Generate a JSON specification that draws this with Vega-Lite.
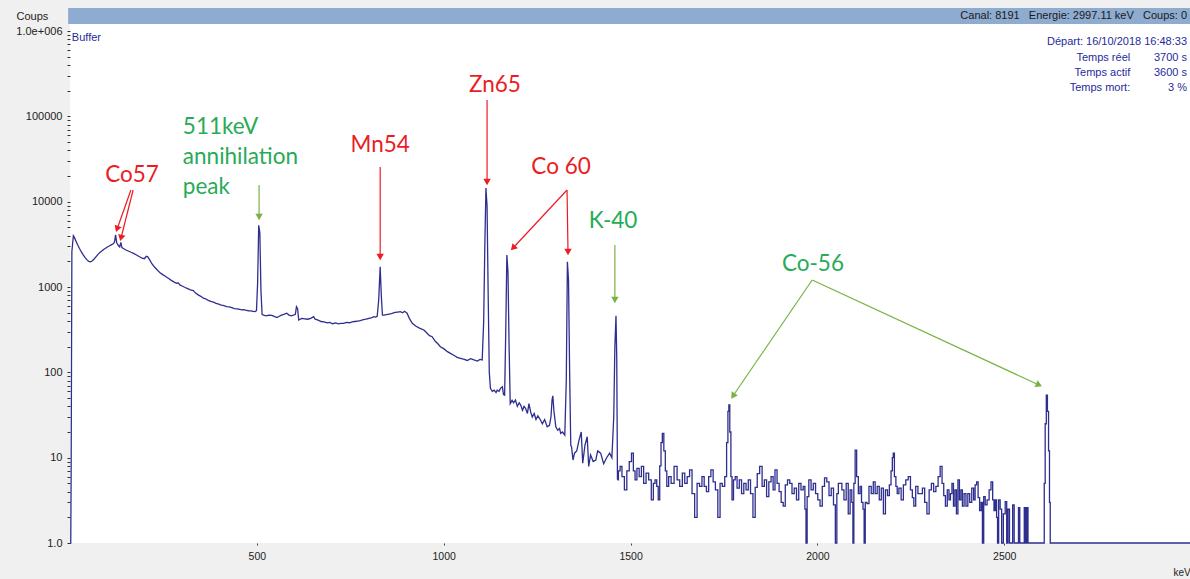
{
  "$schema": "https://vega.github.io/schema/vega-lite/v6.json",
  "width": 1120,
  "height": 535,
  "autosize": {"type": "none"},
  "padding": {"left": 70, "top": 8, "right": 0, "bottom": 36},
  "background": "#f0f0f0",
  "config": {
    "view": {"fill": "#ffffff", "stroke": null},
    "font": "Liberation Sans",
    "axis": {"grid": false, "domain": false, "labelFlush": false, "labelOverlap": false, "titleFontWeight": "normal"}
  },
  "datasets": {
    "spectrum": [
      {"keV":0,"counts":1},{"keV":2,"counts":1},{"keV":3,"counts":6},{"keV":4,"counts":120},{"keV":5,"counts":2600},{"keV":9,"counts":4000},{"keV":12,"counts":3800},{"keV":16,"counts":3450},{"keV":20,"counts":3150},{"keV":25,"counts":2850},{"keV":30,"counts":2600},{"keV":35,"counts":2400},{"keV":40,"counts":2230},{"keV":45,"counts":2100},{"keV":50,"counts":2000},{"keV":55,"counts":1980},{"keV":60,"counts":2040},{"keV":65,"counts":2150},{"keV":70,"counts":2280},{"keV":75,"counts":2420},{"keV":80,"counts":2550},{"keV":85,"counts":2650},{"keV":90,"counts":2760},{"keV":95,"counts":2850},{"keV":100,"counts":2950},{"keV":105,"counts":3030},{"keV":110,"counts":3120},{"keV":115,"counts":3200},{"keV":119,"counts":3350},{"keV":122,"counts":4100},{"keV":125,"counts":3300},{"keV":130,"counts":3050},{"keV":133,"counts":2950},{"keV":136,"counts":3350},{"keV":139,"counts":2900},{"keV":145,"counts":2800},{"keV":150,"counts":2720},{"keV":156,"counts":2650},{"keV":163,"counts":2560},{"keV":170,"counts":2480},{"keV":178,"counts":2380},{"keV":186,"counts":2270},{"keV":193,"counts":2180},{"keV":199,"counts":2150},{"keV":204,"counts":2300},{"keV":208,"counts":2260},{"keV":213,"counts":2100},{"keV":219,"counts":1880},{"keV":226,"counts":1720},{"keV":233,"counts":1600},{"keV":241,"counts":1470},{"keV":248,"counts":1400},{"keV":256,"counts":1330},{"keV":264,"counts":1260},{"keV":271,"counts":1200},{"keV":278,"counts":1150},{"keV":285,"counts":1110},{"keV":290,"counts":1120},{"keV":294,"counts":1060},{"keV":300,"counts":1030},{"keV":308,"counts":990},{"keV":315,"counts":960},{"keV":322,"counts":930},{"keV":330,"counts":910},{"keV":336,"counts":850},{"keV":343,"counts":810},{"keV":350,"counts":780},{"keV":357,"counts":740},{"keV":363,"counts":730},{"keV":370,"counts":700},{"keV":377,"counts":680},{"keV":384,"counts":665},{"keV":391,"counts":645},{"keV":398,"counts":630},{"keV":405,"counts":615},{"keV":412,"counts":605},{"keV":419,"counts":590},{"keV":426,"counts":585},{"keV":433,"counts":575},{"keV":440,"counts":560},{"keV":447,"counts":555},{"keV":454,"counts":548},{"keV":460,"counts":540},{"keV":466,"counts":545},{"keV":472,"counts":532},{"keV":478,"counts":528},{"keV":484,"counts":525},{"keV":490,"counts":520},{"keV":495,"counts":515},{"keV":499,"counts":530},{"keV":502,"counts":1100},{"keV":505,"counts":5300},{"keV":508,"counts":4300},{"keV":511,"counts":900},{"keV":514,"counts":480},{"keV":518,"counts":470},{"keV":525,"counts":460},{"keV":532,"counts":470},{"keV":540,"counts":465},{"keV":548,"counts":450},{"keV":554,"counts":440},{"keV":560,"counts":455},{"keV":566,"counts":470},{"keV":572,"counts":480},{"keV":580,"counts":495},{"keV":586,"counts":470},{"keV":592,"counts":460},{"keV":598,"counts":470},{"keV":603,"counts":480},{"keV":606,"counts":590},{"keV":609,"counts":560},{"keV":612,"counts":411},{"keV":620,"counts":430},{"keV":628,"counts":425},{"keV":636,"counts":420},{"keV":644,"counts":430},{"keV":652,"counts":450},{"keV":656,"counts":420},{"keV":664,"counts":410},{"keV":672,"counts":395},{"keV":680,"counts":390},{"keV":688,"counts":380},{"keV":695,"counts":385},{"keV":703,"counts":372},{"keV":711,"counts":380},{"keV":718,"counts":370},{"keV":724,"counts":376},{"keV":732,"counts":376},{"keV":740,"counts":385},{"keV":748,"counts":382},{"keV":755,"counts":390},{"keV":762,"counts":395},{"keV":770,"counts":400},{"keV":777,"counts":405},{"keV":785,"counts":415},{"keV":792,"counts":420},{"keV":800,"counts":430},{"keV":808,"counts":440},{"keV":813,"counts":450},{"keV":818,"counts":445},{"keV":822,"counts":455},{"keV":826,"counts":700},{"keV":830,"counts":1735},{"keV":833,"counts":800},{"keV":836,"counts":470},{"keV":840,"counts":470},{"keV":850,"counts":480},{"keV":860,"counts":490},{"keV":870,"counts":505},{"keV":877,"counts":510},{"keV":884,"counts":515},{"keV":890,"counts":500},{"keV":895,"counts":520},{"keV":902,"counts":495},{"keV":908,"counts":430},{"keV":916,"counts":376},{"keV":925,"counts":350},{"keV":935,"counts":330},{"keV":947,"counts":314},{"keV":955,"counts":290},{"keV":962,"counts":270},{"keV":969,"counts":262},{"keV":978,"counts":230},{"keV":985,"counts":215},{"keV":991,"counts":200},{"keV":1000,"counts":190},{"keV":1010,"counts":175},{"keV":1018,"counts":167},{"keV":1028,"counts":158},{"keV":1036,"counts":150},{"keV":1045,"counts":146},{"keV":1055,"counts":142},{"keV":1063,"counts":138},{"keV":1072,"counts":145},{"keV":1081,"counts":140},{"keV":1090,"counts":136},{"keV":1097,"counts":142},{"keV":1103,"counts":140},{"keV":1107,"counts":400},{"keV":1110,"counts":3000},{"keV":1113,"counts":14500},{"keV":1116,"counts":9000},{"keV":1119,"counts":800},{"keV":1122,"counts":100},{"keV":1125,"counts":65},{"keV":1130,"counts":60},{"keV":1135,"counts":62},{"keV":1140,"counts":58},{"keV":1143,"counts":62},{"keV":1148,"counts":60},{"keV":1152,"counts":65},{"keV":1157,"counts":68},{"keV":1160,"counts":55},{"keV":1163,"counts":54},{"keV":1166,"counts":300},{"keV":1169,"counts":2380},{"keV":1172,"counts":1500},{"keV":1175,"counts":200},{"keV":1178,"counts":43},{"keV":1183,"counts":47},{"keV":1187,"counts":44},{"keV":1192,"counts":47.5},{"keV":1197,"counts":40},{"keV":1202,"counts":44},{"keV":1206,"counts":41.5},{"keV":1211,"counts":36},{"keV":1215,"counts":40},{"keV":1219,"counts":38},{"keV":1224,"counts":33},{"keV":1228,"counts":43},{"keV":1233,"counts":34},{"keV":1237,"counts":30},{"keV":1242,"counts":33},{"keV":1247,"counts":28},{"keV":1252,"counts":31},{"keV":1259,"counts":27.7},{"keV":1264,"counts":25},{"keV":1270,"counts":28},{"keV":1277,"counts":23},{"keV":1283,"counts":24},{"keV":1287,"counts":30},{"keV":1290,"counts":48},{"keV":1292,"counts":53},{"keV":1295,"counts":35},{"keV":1300,"counts":23},{"keV":1305,"counts":21},{"keV":1310,"counts":22},{"keV":1313,"counts":19.3},{"keV":1318,"counts":20},{"keV":1324,"counts":18.4},{"keV":1328,"counts":80},{"keV":1331,"counts":1985},{"keV":1334,"counts":1200},{"keV":1337,"counts":100},{"keV":1340,"counts":14},
      {"keV":1342,"counts":13.5},{"keV":1346,"counts":9.4},{"keV":1350,"counts":11.3},{"keV":1356,"counts":12},{"keV":1362,"counts":16},{"keV":1368,"counts":20},{"keV":1372,"counts":8.6},{"keV":1378,"counts":14},{"keV":1384,"counts":17.6},{"keV":1388,"counts":7.9},{"keV":1393,"counts":10.8},{"keV":1400,"counts":9},{"keV":1407,"counts":9.4},{"keV":1412,"counts":12},{"keV":1420,"counts":11.3},{"keV":1428,"counts":8.5},{"keV":1436,"counts":10},{"keV":1444,"counts":11.3},{"keV":1450,"counts":10},{"keV":1455,"counts":30},{"keV":1458,"counts":200},{"keV":1461,"counts":460},{"keV":1463,"counts":150},{"keV":1465,"counts":5.5},{"keV":1470,"counts":7},{"keV":1474,"counts":7.9},{"keV":1480,"counts":6},{"keV":1487,"counts":4.2},{"keV":1493,"counts":7},{"keV":1500,"counts":9},{"keV":1505,"counts":11.3},{"keV":1510,"counts":7},{"keV":1514,"counts":5.5},{"keV":1520,"counts":7.5},{"keV":1526,"counts":6},{"keV":1532,"counts":7.9},{"keV":1538,"counts":5},{"keV":1545,"counts":6.6},{"keV":1552,"counts":5.5},{"keV":1559,"counts":3.2},{"keV":1563,"counts":5},{"keV":1568,"counts":5.5},{"keV":1572,"counts":4.6},{"keV":1576,"counts":3.2},{"keV":1580,"counts":8},{"keV":1583,"counts":15},{"keV":1587,"counts":19.3},{"keV":1591,"counts":12},{"keV":1595,"counts":7},{"keV":1599,"counts":4.6},{"keV":1605,"counts":6},{"keV":1612,"counts":5},{"keV":1621,"counts":7.9},{"keV":1628,"counts":5.5},{"keV":1635,"counts":4.6},{"keV":1642,"counts":6.6},{"keV":1648,"counts":5},{"keV":1655,"counts":6},{"keV":1661,"counts":7.2},{"keV":1668,"counts":3.8},{"keV":1675,"counts":2.0},{"keV":1681,"counts":5},{"keV":1688,"counts":4.6},{"keV":1694,"counts":6},{"keV":1700,"counts":4.6},{"keV":1706,"counts":4.0},{"keV":1712,"counts":6},{"keV":1718,"counts":7.2},{"keV":1724,"counts":5.2},{"keV":1730,"counts":4.2},{"keV":1737,"counts":2.0},{"keV":1742,"counts":5},{"keV":1749,"counts":4.6},{"keV":1755,"counts":6},{"keV":1759,"counts":15},{"keV":1762,"counts":35},{"keV":1764,"counts":41.5},{"keV":1767,"counts":20},{"keV":1770,"counts":6},{"keV":1773,"counts":3.2},{"keV":1778,"counts":5.5},{"keV":1782,"counts":6.0},{"keV":1788,"counts":4.4},{"keV":1794,"counts":5.5},{"keV":1800,"counts":3.8},{"keV":1806,"counts":5},{"keV":1812,"counts":4.2},{"keV":1818,"counts":5.5},{"keV":1824,"counts":3.8},{"keV":1831,"counts":2.0},{"keV":1836,"counts":4.5},{"keV":1842,"counts":6.5},{"keV":1849,"counts":7.9},{"keV":1855,"counts":4.6},{"keV":1861,"counts":5.5},{"keV":1867,"counts":3.5},{"keV":1873,"counts":5.2},{"keV":1879,"counts":6},{"keV":1884,"counts":4.2},{"keV":1889,"counts":7.2},{"keV":1895,"counts":5},{"keV":1900,"counts":4},{"keV":1906,"counts":3},{"keV":1911,"counts":2.7},{"keV":1917,"counts":4.8},{"keV":1923,"counts":5.5},{"keV":1929,"counts":5.0},{"keV":1935,"counts":3.8},{"keV":1941,"counts":4.4},{"keV":1947,"counts":3.2},{"keV":1953,"counts":5},{"keV":1959,"counts":4.2},{"keV":1965,"counts":4.6},{"keV":1968,"counts":2.5},{"keV":1971,"counts":1},{"keV":1974,"counts":3.5},{"keV":1980,"counts":5.5},{"keV":1986,"counts":4.2},{"keV":1992,"counts":5.0},{"keV":1998,"counts":3.8},{"keV":2004,"counts":3.2},{"keV":2010,"counts":2.7},{"keV":2016,"counts":4.6},{"keV":2022,"counts":5.8},{"keV":2028,"counts":5.2},{"keV":2034,"counts":3.6},{"keV":2040,"counts":4.4},{"keV":2046,"counts":2.8},{"keV":2050,"counts":1},{"keV":2054,"counts":3.8},{"keV":2058,"counts":5},{"keV":2063,"counts":5.0},{"keV":2068,"counts":4.2},{"keV":2074,"counts":3.2},{"keV":2080,"counts":5},{"keV":2085,"counts":2.2},{"keV":2090,"counts":4.2},{"keV":2094,"counts":3},{"keV":2096,"counts":1},{"keV":2099,"counts":5},{"keV":2103,"counts":12.3},{"keV":2107,"counts":6},{"keV":2112,"counts":3.8},{"keV":2116,"counts":4.6},{"keV":2120,"counts":3},{"keV":2124,"counts":2.5},{"keV":2126,"counts":1},{"keV":2130,"counts":3},{"keV":2135,"counts":2.9},{"keV":2141,"counts":4.6},{"keV":2147,"counts":3.8},{"keV":2152,"counts":5.2},{"keV":2157,"counts":3.8},{"keV":2163,"counts":4.6},{"keV":2168,"counts":3.2},{"keV":2174,"counts":4.4},{"keV":2179,"counts":2.2},{"keV":2185,"counts":4.2},{"keV":2190,"counts":3.6},{"keV":2195,"counts":4.8},{"keV":2199,"counts":7},{"keV":2202,"counts":10},{"keV":2204,"counts":11.3},{"keV":2208,"counts":6},{"keV":2212,"counts":4.6},{"keV":2215,"counts":3.8},{"keV":2221,"counts":4.4},{"keV":2227,"counts":3.2},{"keV":2233,"counts":4.8},{"keV":2240,"counts":5.5},{"keV":2246,"counts":6.0},{"keV":2252,"counts":4.2},{"keV":2256,"counts":3.4},{"keV":2260,"counts":2.7},{"keV":2266,"counts":4.6},{"keV":2272,"counts":3.8},{"keV":2278,"counts":3.8},{"keV":2284,"counts":4.4},{"keV":2290,"counts":3},{"keV":2296,"counts":2.2},{"keV":2302,"counts":4.2},{"keV":2308,"counts":5},{"keV":2314,"counts":4},{"keV":2320,"counts":4.6},{"keV":2326,"counts":6},{"keV":2331,"counts":7.9},{"keV":2336,"counts":5},{"keV":2340,"counts":3.6},{"keV":2345,"counts":2.7},{"keV":2350,"counts":4.2},{"keV":2354,"counts":3.2},{"keV":2358,"counts":3.8},{"keV":2362,"counts":5.0},{"keV":2366,"counts":2.7},{"keV":2370,"counts":4.2},{"keV":2374,"counts":2.2},{"keV":2378,"counts":5.5},{"keV":2382,"counts":3.2},{"keV":2386,"counts":4.2},{"keV":2390,"counts":2.7},{"keV":2395,"counts":3.8},{"keV":2400,"counts":2.7},{"keV":2405,"counts":3.8},{"keV":2410,"counts":3},{"keV":2416,"counts":4.4},{"keV":2420,"counts":3.2},{"keV":2424,"counts":4.8},{"keV":2428,"counts":5.2},{"keV":2432,"counts":3.4},{"keV":2436,"counts":2.4},{"keV":2440,"counts":3},{"keV":2443,"counts":1},{"keV":2447,"counts":3.5},{"keV":2451,"counts":2.8},{"keV":2457,"counts":3.2},{"keV":2462,"counts":4.2},{"keV":2467,"counts":5.2},{"keV":2471,"counts":3.2},{"keV":2474,"counts":2.4},{"keV":2478,"counts":3.2},{"keV":2481,"counts":2},{"keV":2483,"counts":1},{"keV":2487,"counts":3.2},{"keV":2491,"counts":2.5},{"keV":2495,"counts":1},{"keV":2500,"counts":2.2},{"keV":2505,"counts":3.05},{"keV":2508,"counts":1},{"keV":2512,"counts":2.5},{"keV":2516,"counts":1},{"keV":2520,"counts":1},{"keV":2525,"counts":2.8},{"keV":2528,"counts":1},{"keV":2536,"counts":1},{"keV":2540,"counts":2.6},{"keV":2543,"counts":1},{"keV":2552,"counts":1},{"keV":2555,"counts":2.6},{"keV":2558,"counts":1},{"keV":2562,"counts":2.6},{"keV":2565,"counts":1},{"keV":2606,"counts":1},{"keV":2608,"counts":5},{"keV":2611,"counts":25},{"keV":2614,"counts":54},{"keV":2617,"counts":35},{"keV":2620,"counts":12},{"keV":2622,"counts":3},{"keV":2624,"counts":1},{"keV":2997,"counts":1}
    ],
    "arrows": [
      {"arrow":"Co57a","group":"activation","keV0":163,"c0":13750,"keV1":126,"c1":4800},
      {"arrow":"Co57b","group":"activation","keV0":169,"c0":13750,"keV1":136.5,"c1":3765},
      {"arrow":"511","group":"other","keV0":506,"c0":15740,"keV1":506,"c1":6635},
      {"arrow":"Mn54","group":"activation","keV0":830,"c0":25600,"keV1":830,"c1":2254},
      {"arrow":"Zn65","group":"activation","keV0":1116,"c0":156000,"keV1":1116,"c1":17060},
      {"arrow":"Co60a","group":"activation","keV0":1330,"c0":13750,"keV1":1185.5,"c1":2873},
      {"arrow":"Co60b","group":"activation","keV0":1330,"c0":13750,"keV1":1332.6,"c1":2579},
      {"arrow":"K40","group":"other","keV0":1458,"c0":3118,"keV1":1458,"c1":706},
      {"arrow":"Co56a","group":"other","keV0":1986,"c0":1211,"keV1":1774,"c1":52.9},
      {"arrow":"Co56b","group":"other","keV0":1986,"c0":1211,"keV1":2593,"c1":71.2}
    ],
    "labels": [
      {"label":"Co57","group":"activation","keV":166,"counts":20600},
      {"label":"Mn54","group":"activation","keV":830,"counts":46400},
      {"label":"Zn65","group":"activation","keV":1137,"counts":234000},
      {"label":"Co 60","group":"activation","keV":1314,"counts":25600},
      {"label":"K-40","group":"other","keV":1453,"counts":5960},
      {"label":"Co-56","group":"other","keV":1988,"counts":1866}
    ],
    "labels511": [
      {"label":"511keV","group":"other","keV":302,"counts":75300},
      {"label":"annihilation","group":"other","keV":302,"counts":33500},
      {"label":"peak","group":"other","keV":302,"counts":14920}
    ],
    "info": [
      {"text":"Départ: 16/10/2018 16:48:33","keV":2989,"counts":747000},
      {"text":"Temps réel","keV":2837,"counts":485000},
      {"text":"3700 s","keV":2989,"counts":485000},
      {"text":"Temps actif","keV":2837,"counts":323600},
      {"text":"3600 s","keV":2989,"counts":323600},
      {"text":"Temps mort:","keV":2837,"counts":216000},
      {"text":"3 %","keV":2989,"counts":216000}
    ]
  },
  "resolve": {"scale": {"color": "independent"}},
  "layer": [
    {
      "data": {"values": [{}]},
      "mark": {"type": "rect", "color": "#8eabd0"},
      "encoding": {
        "x": {"datum": -5, "type": "quantitative"},
        "x2": {"datum": 2997},
        "y": {"datum": 1216000, "type": "quantitative"},
        "y2": {"datum": 1870500}
      }
    },
    {
      "data": {"values": [{}]},
      "mark": {"type": "text", "text": "Canal: 8191\u00a0\u00a0 Energie: 2997.11 keV\u00a0\u00a0 Coups: 0", "align": "right", "baseline": "middle", "fontSize": 11, "color": "#1a1a1a", "font": "Liberation Sans"},
      "encoding": {
        "x": {"datum": 2989, "type": "quantitative"},
        "y": {"datum": 1507000, "type": "quantitative"}
      }
    },
    {
      "data": {"name": "spectrum"},
      "transform": [{"filter": "datum.keV <= 1465"}],
      "mark": {"type": "line", "color": "#2e2e8e", "strokeWidth": 1.3, "interpolate": "linear"},
      "encoding": {
        "x": {
          "field": "keV", "type": "quantitative",
          "scale": {"domain": [0, 2997], "nice": false, "zero": false},
          "axis": {
            "values": [500, 1000, 1500, 2000, 2500], "format": "d",
            "tickSize": 2, "tickColor": "#444", "labelFontSize": 10.5, "labelColor": "#222", "labelPadding": 6,
            "title": "keV", "titleFontSize": 10, "titleColor": "#222", "titleX": 1103, "titleY": 29, "titleAlign": "left", "titleBaseline": "middle"
          }
        },
        "y": {
          "field": "counts", "type": "quantitative",
          "scale": {"type": "log", "domain": [1, 1870500], "nice": false, "zero": false},
          "axis": {
            "values": [1,2,3,4,5,6,7,8,9,10,20,30,40,50,60,70,80,90,100,200,300,400,500,600,700,800,900,1000,2000,3000,4000,5000,6000,7000,8000,9000,10000,20000,30000,40000,50000,60000,70000,80000,90000,100000,200000,300000,400000,500000,600000,700000,800000,900000,1000000],
            "labelExpr": "datum.value == 1 ? '1.0' : datum.value == 1000000 ? '1.0e+006' : indexof([10,100,1000,10000,100000], datum.value) >= 0 ? format(datum.value, 'd') : ''",
            "tickSize": 3, "tickColor": "#333", "labelFontSize": 11, "labelColor": "#222", "labelPadding": 5,
            "title": "Coups", "titleFontSize": 11, "titleColor": "#222", "titleAngle": 0, "titleX": -54, "titleY": 8, "titleAlign": "left", "titleBaseline": "middle"
          }
        }
      }
    },
    {
      "data": {"name": "spectrum"},
      "transform": [{"filter": "datum.keV >= 1465"}],
      "mark": {"type": "line", "color": "#2e2e8e", "strokeWidth": 1.3, "interpolate": "step"},
      "encoding": {
        "x": {"field": "keV", "type": "quantitative"},
        "y": {"field": "counts", "type": "quantitative"}
      }
    },
    {
      "data": {"name": "arrows"},
      "mark": {"type": "rule", "strokeWidth": 1.2},
      "encoding": {
        "x": {"field": "keV0", "type": "quantitative"},
        "y": {"field": "c0", "type": "quantitative"},
        "x2": {"field": "keV1"},
        "y2": {"field": "c1"},
        "color": {"field": "group", "type": "nominal", "scale": {"domain": ["activation", "other"], "range": ["#ec1c24", "#79b243"]}, "legend": null}
      }
    },
    {
      "data": {"name": "arrows"},
      "transform": [{"filter": {"field": "arrow", "oneOf": ["511", "Mn54", "Zn65", "Co60b", "K40"]}}],
      "mark": {"type": "point", "shape": "triangle-up", "filled": true, "opacity": 1, "size": 55, "angle": 180},
      "encoding": {
        "x": {"field": "keV1", "type": "quantitative"},
        "y": {"field": "c1", "type": "quantitative"},
        "color": {"field": "group", "type": "nominal", "scale": {"domain": ["activation", "other"], "range": ["#ec1c24", "#79b243"]}, "legend": null}
      }
    },
    {
      "data": {"name": "arrows"},
      "transform": [{"filter": {"field": "arrow", "equal": "Co57a"}}],
      "mark": {"type": "point", "shape": "triangle-up", "filled": true, "opacity": 1, "size": 55, "angle": 200, "color": "#ec1c24"},
      "encoding": {"x": {"field": "keV1", "type": "quantitative"}, "y": {"field": "c1", "type": "quantitative"}}
    },
    {
      "data": {"name": "arrows"},
      "transform": [{"filter": {"field": "arrow", "equal": "Co57b"}}],
      "mark": {"type": "point", "shape": "triangle-up", "filled": true, "opacity": 1, "size": 55, "angle": 194, "color": "#ec1c24"},
      "encoding": {"x": {"field": "keV1", "type": "quantitative"}, "y": {"field": "c1", "type": "quantitative"}}
    },
    {
      "data": {"name": "arrows"},
      "transform": [{"filter": {"field": "arrow", "equal": "Co60a"}}],
      "mark": {"type": "point", "shape": "triangle-up", "filled": true, "opacity": 1, "size": 55, "angle": 223, "color": "#ec1c24"},
      "encoding": {"x": {"field": "keV1", "type": "quantitative"}, "y": {"field": "c1", "type": "quantitative"}}
    },
    {
      "data": {"name": "arrows"},
      "transform": [{"filter": {"field": "arrow", "equal": "Co56a"}}],
      "mark": {"type": "point", "shape": "triangle-up", "filled": true, "opacity": 1, "size": 55, "angle": 214, "color": "#79b243"},
      "encoding": {"x": {"field": "keV1", "type": "quantitative"}, "y": {"field": "c1", "type": "quantitative"}}
    },
    {
      "data": {"name": "arrows"},
      "transform": [{"filter": {"field": "arrow", "equal": "Co56b"}}],
      "mark": {"type": "point", "shape": "triangle-up", "filled": true, "opacity": 1, "size": 55, "angle": 115, "color": "#79b243"},
      "encoding": {"x": {"field": "keV1", "type": "quantitative"}, "y": {"field": "c1", "type": "quantitative"}}
    },
    {
      "data": {"name": "labels"},
      "mark": {"type": "text", "font": "Lato", "fontSize": 22.5, "align": "center", "baseline": "middle"},
      "encoding": {
        "x": {"field": "keV", "type": "quantitative"},
        "y": {"field": "counts", "type": "quantitative"},
        "text": {"field": "label"},
        "color": {"field": "group", "type": "nominal", "scale": {"domain": ["activation", "other"], "range": ["#ec1c24", "#27ab57"]}, "legend": null}
      }
    },
    {
      "data": {"name": "labels511"},
      "mark": {"type": "text", "font": "Lato", "fontSize": 22.5, "align": "left", "baseline": "middle", "color": "#27ab57"},
      "encoding": {
        "x": {"field": "keV", "type": "quantitative"},
        "y": {"field": "counts", "type": "quantitative"},
        "text": {"field": "label"}
      }
    },
    {
      "data": {"name": "info"},
      "mark": {"type": "text", "font": "Liberation Sans", "fontSize": 11, "align": "right", "baseline": "middle", "color": "#1f2a9c"},
      "encoding": {
        "x": {"field": "keV", "type": "quantitative"},
        "y": {"field": "counts", "type": "quantitative"},
        "text": {"field": "text"}
      }
    },
    {
      "data": {"values": [{}]},
      "mark": {"type": "text", "text": "Buffer", "font": "Liberation Sans", "fontSize": 11, "align": "left", "baseline": "middle", "color": "#1f2a9c"},
      "encoding": {
        "x": {"datum": 5, "type": "quantitative"},
        "y": {"datum": 832000, "type": "quantitative"}
      }
    }
  ]
}
